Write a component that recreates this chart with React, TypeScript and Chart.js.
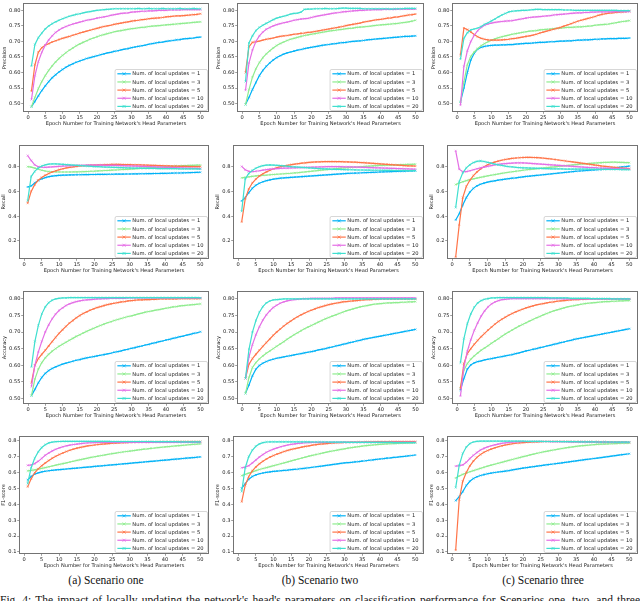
import React, { useEffect, useRef } from "react";
import { Chart, registerables } from "chart.js";

Chart.register(...registerables);

// ---------------- data ----------------
const EPOCHS = [1, 2, 3, 4, 5, 6, 7, 8, 9, 10, 11, 12, 13, 14, 15, 16, 17, 18, 19, 20, 21, 22, 23, 24, 25, 26, 27, 28, 29, 30, 31, 32, 33, 34, 35, 36, 37, 38, 39, 40, 41, 42, 43, 44, 45, 46, 47, 48, 49, 50];
const UPDATE_COUNTS = [1, 3, 5, 10, 20];
const X_TICKS = [0, 5, 10, 15, 20, 25, 30, 35, 40, 45, 50];
const PRECISION_TICKS = [0.5, 0.55, 0.6, 0.65, 0.7, 0.75, 0.8];
const RECALL_TICKS = [0.2, 0.4, 0.6, 0.8];
const ACCURACY_TICKS = [0.5, 0.55, 0.6, 0.65, 0.7, 0.75, 0.8];
const F1_TICKS = [0.1, 0.2, 0.3, 0.4, 0.5, 0.6, 0.7, 0.8];
const X_TITLE = "Epoch Number for Training Network's Head Parameters";
const SCENARIO_CAPTIONS = ["(a) Scenario one", "(b) Scenario two", "(c) Scenario three"];
const FIG_CAPTION = "Fig. 4: The impact of locally updating the network's head's parameters on classification performance for Scenarios one, two, and three";

// Precision, scenario one
const PREC_SC1_U1 = [.490, .507, .525, .542, .557, .571, .583, .593, .602, .610, .617, .623, .628, .633, .637, .641, .645, .648, .651, .654, .657, .660, .663, .665, .668, .670, .673, .675, .677, .680, .682, .684, .686, .688, .691, .693, .695, .697, .698, .700, .702, .703, .705, .706, .708, .709, .710, .711, .713, .714];
const PREC_SC1_U3 = [.490, .520, .548, .571, .590, .607, .621, .634, .645, .655, .664, .672, .679, .686, .692, .697, .702, .707, .711, .715, .719, .722, .725, .728, .731, .733, .735, .737, .739, .741, .742, .744, .745, .746, .748, .749, .750, .751, .752, .753, .754, .755, .756, .757, .758, .759, .760, .761, .762, .763];
const PREC_SC1_U5 = [.540, .625, .665, .680, .688, .693, .698, .702, .706, .710, .713, .716, .720, .723, .727, .730, .733, .736, .739, .742, .745, .748, .750, .752, .755, .757, .759, .761, .763, .765, .767, .768, .770, .771, .773, .774, .775, .776, .777, .779, .780, .781, .782, .782, .783, .784, .785, .786, .787, .789];
const PREC_SC1_U10 = [.513, .590, .635, .665, .688, .705, .718, .729, .737, .743, .748, .752, .756, .759, .762, .765, .768, .770, .772, .775, .777, .779, .781, .784, .786, .788, .790, .791, .792, .794, .795, .796, .797, .797, .798, .798, .799, .800, .800, .800, .801, .801, .801, .801, .802, .802, .802, .802, .802, .802];
const PREC_SC1_U20 = [.621, .690, .712, .727, .740, .750, .757, .763, .768, .773, .777, .781, .784, .787, .789, .792, .794, .796, .798, .800, .801, .802, .803, .804, .805, .805, .805, .805, .805, .805, .805, .806, .805, .805, .806, .805, .805, .805, .806, .805, .805, .805, .805, .806, .805, .805, .805, .806, .805, .805];

// Precision, scenario two
const PREC_SC2_U1 = [.497, .520, .545, .568, .590, .607, .620, .631, .640, .648, .654, .659, .663, .666, .669, .672, .674, .677, .679, .681, .683, .685, .687, .689, .690, .692, .693, .695, .696, .697, .699, .700, .701, .702, .703, .705, .706, .707, .708, .709, .710, .711, .712, .713, .714, .715, .716, .716, .717, .718];
const PREC_SC2_U3 = [.497, .545, .585, .612, .632, .648, .660, .670, .679, .687, .693, .698, .703, .707, .710, .713, .716, .719, .721, .723, .725, .727, .729, .731, .733, .735, .736, .738, .739, .741, .742, .743, .745, .746, .747, .748, .749, .751, .752, .753, .754, .755, .756, .757, .758, .760, .761, .763, .765, .768];
const PREC_SC2_U5 = [.600, .683, .697, .699, .701, .704, .707, .709, .711, .714, .716, .718, .719, .721, .723, .724, .726, .727, .729, .730, .732, .734, .736, .738, .740, .742, .744, .746, .748, .751, .753, .755, .757, .759, .762, .764, .766, .768, .770, .771, .773, .775, .776, .778, .779, .781, .783, .785, .786, .788];
const PREC_SC2_U10 = [.543, .630, .672, .700, .718, .730, .739, .745, .750, .754, .757, .760, .762, .765, .768, .770, .772, .773, .774, .777, .780, .782, .784, .786, .788, .790, .792, .793, .795, .796, .797, .798, .799, .800, .800, .801, .801, .802, .802, .802, .803, .803, .803, .803, .804, .804, .804, .804, .804, .804];
const PREC_SC2_U20 = [.571, .695, .718, .735, .745, .752, .758, .764, .770, .775, .778, .781, .784, .788, .790, .791, .794, .803, .804, .804, .805, .805, .805, .806, .805, .805, .805, .806, .807, .807, .806, .806, .806, .806, .805, .805, .805, .805, .805, .805, .805, .805, .804, .805, .805, .805, .806, .806, .806, .806];

// Precision, scenario three
const PREC_SC3_U1 = [.506, .550, .600, .640, .662, .675, .681, .684, .686, .687, .688, .688, .689, .689, .690, .690, .691, .692, .693, .694, .694, .695, .696, .697, .697, .698, .699, .699, .700, .701, .701, .702, .702, .703, .704, .704, .705, .705, .706, .707, .707, .708, .708, .709, .709, .709, .710, .710, .710, .711];
const PREC_SC3_U3 = [.505, .570, .625, .652, .666, .677, .686, .693, .699, .704, .708, .712, .715, .718, .720, .723, .725, .727, .729, .731, .733, .734, .735, .737, .738, .739, .740, .741, .742, .743, .744, .745, .745, .746, .747, .747, .748, .749, .750, .752, .753, .754, .755, .756, .758, .760, .762, .764, .765, .767];
const PREC_SC3_U5 = [.656, .743, .738, .730, .722, .715, .710, .707, .705, .704, .704, .704, .705, .706, .707, .709, .710, .712, .714, .716, .718, .720, .723, .727, .730, .733, .736, .739, .742, .745, .749, .753, .757, .761, .765, .768, .771, .774, .777, .780, .784, .787, .789, .791, .792, .793, .794, .795, .796, .797];
const PREC_SC3_U10 = [.495, .620, .670, .700, .720, .735, .745, .752, .756, .759, .761, .763, .764, .765, .766, .767, .769, .771, .773, .775, .777, .778, .779, .780, .781, .782, .783, .785, .786, .787, .788, .789, .790, .791, .792, .792, .793, .793, .794, .794, .795, .795, .795, .795, .795, .796, .796, .796, .796, .796];
const PREC_SC3_U20 = [.643, .710, .728, .737, .740, .743, .748, .755, .760, .766, .772, .779, .785, .790, .795, .797, .798, .799, .800, .800, .801, .802, .803, .803, .802, .802, .802, .802, .802, .802, .801, .801, .801, .800, .800, .800, .800, .800, .800, .800, .800, .800, .800, .800, .800, .800, .799, .799, .799, .799];

// Recall, scenario one
const REC_SC1_U1 = [.636, .645, .668, .688, .702, .712, .719, .724, .727, .730, .731, .732, .733, .734, .735, .735, .736, .736, .737, .737, .738, .738, .738, .739, .739, .740, .740, .740, .741, .741, .742, .742, .743, .743, .744, .744, .745, .745, .746, .746, .747, .748, .749, .749, .750, .751, .752, .753, .754, .755];
const REC_SC1_U3 = [.800, .796, .788, .779, .771, .765, .761, .759, .758, .757, .757, .757, .757, .758, .758, .759, .760, .761, .763, .764, .766, .767, .769, .770, .772, .773, .775, .777, .778, .780, .782, .784, .786, .788, .790, .792, .794, .796, .798, .800, .802, .803, .805, .806, .808, .809, .810, .811, .812, .812];
const REC_SC1_U5 = [.505, .600, .655, .690, .713, .730, .745, .757, .767, .776, .783, .790, .795, .799, .803, .806, .808, .810, .812, .813, .814, .815, .816, .817, .818, .818, .818, .817, .817, .816, .815, .815, .814, .813, .812, .811, .810, .809, .808, .807, .806, .805, .804, .803, .803, .802, .801, .801, .800, .800];
const REC_SC1_U10 = [.890, .850, .815, .800, .796, .795, .797, .799, .801, .803, .805, .806, .808, .809, .810, .811, .811, .812, .812, .812, .812, .812, .811, .811, .810, .810, .809, .808, .807, .806, .805, .804, .803, .802, .801, .800, .799, .797, .796, .795, .794, .793, .792, .791, .790, .789, .788, .787, .786, .785];
const REC_SC1_U20 = [.525, .720, .762, .788, .805, .815, .820, .822, .822, .821, .819, .817, .815, .813, .811, .809, .807, .805, .803, .801, .800, .799, .797, .796, .795, .794, .793, .792, .791, .790, .789, .789, .788, .787, .787, .786, .786, .785, .785, .785, .784, .784, .784, .783, .783, .783, .782, .782, .782, .781];

// Recall, scenario two
const REC_SC2_U1 = [.523, .550, .590, .625, .650, .666, .678, .687, .694, .700, .704, .707, .710, .712, .714, .716, .718, .720, .722, .724, .726, .728, .730, .732, .734, .736, .738, .740, .742, .744, .746, .747, .748, .749, .751, .752, .753, .754, .755, .757, .758, .759, .760, .761, .762, .763, .764, .765, .766, .767];
const REC_SC2_U3 = [.710, .714, .718, .722, .725, .728, .730, .732, .735, .737, .739, .741, .743, .745, .747, .750, .752, .755, .758, .761, .764, .767, .770, .773, .776, .779, .782, .785, .788, .790, .792, .794, .796, .798, .800, .802, .804, .806, .808, .810, .811, .812, .813, .814, .815, .816, .817, .818, .819, .820];
const REC_SC2_U5 = [.354, .540, .620, .668, .700, .724, .743, .758, .771, .783, .792, .800, .806, .811, .816, .820, .824, .828, .831, .834, .836, .838, .839, .840, .841, .841, .841, .840, .840, .839, .838, .837, .836, .834, .833, .831, .829, .827, .825, .823, .821, .819, .817, .815, .813, .811, .809, .807, .806, .805];
const REC_SC2_U10 = [.802, .775, .762, .760, .763, .767, .772, .776, .780, .783, .785, .787, .788, .789, .790, .791, .792, .793, .794, .795, .796, .797, .798, .799, .800, .800, .800, .800, .800, .799, .799, .798, .797, .796, .795, .794, .793, .792, .791, .790, .789, .788, .787, .786, .785, .784, .783, .782, .781, .780];
const REC_SC2_U20 = [.440, .700, .745, .770, .788, .800, .808, .813, .814, .813, .811, .809, .806, .803, .800, .798, .796, .794, .792, .790, .788, .786, .785, .783, .782, .780, .779, .778, .777, .776, .775, .775, .774, .773, .773, .772, .772, .771, .771, .771, .770, .770, .770, .769, .769, .769, .769, .768, .768, .768];

// Recall, scenario three
const REC_SC3_U1 = [.370, .420, .490, .550, .595, .625, .645, .658, .667, .675, .681, .686, .691, .695, .699, .703, .707, .710, .714, .718, .721, .724, .727, .730, .733, .736, .739, .742, .745, .748, .751, .754, .757, .760, .763, .765, .767, .769, .771, .773, .775, .777, .780, .783, .786, .790, .794, .798, .801, .805];
const REC_SC3_U3 = [.655, .668, .678, .687, .695, .702, .708, .714, .720, .726, .731, .736, .741, .746, .751, .755, .759, .763, .767, .771, .775, .778, .781, .784, .787, .790, .793, .796, .799, .802, .805, .808, .811, .814, .817, .820, .822, .824, .826, .828, .830, .832, .834, .835, .836, .836, .835, .834, .833, .832];
const REC_SC3_U5 = [.071, .330, .550, .640, .690, .728, .757, .781, .800, .815, .827, .837, .845, .852, .858, .863, .867, .870, .872, .874, .875, .875, .874, .873, .871, .868, .865, .862, .858, .854, .850, .846, .842, .838, .834, .830, .826, .822, .818, .814, .810, .806, .803, .800, .797, .794, .791, .789, .787, .785];
const REC_SC3_U10 = [.928, .780, .760, .760, .767, .775, .783, .790, .797, .803, .809, .814, .818, .822, .825, .827, .829, .830, .830, .830, .829, .827, .825, .823, .821, .819, .817, .815, .813, .811, .809, .807, .805, .803, .801, .799, .797, .795, .793, .792, .790, .789, .788, .787, .786, .785, .784, .783, .782, .781];
const REC_SC3_U20 = [.470, .680, .750, .790, .815, .833, .843, .846, .842, .835, .828, .821, .815, .810, .805, .801, .798, .795, .793, .791, .790, .789, .788, .787, .786, .785, .784, .783, .783, .782, .782, .781, .781, .781, .780, .780, .780, .780, .779, .779, .779, .778, .778, .778, .777, .777, .777, .776, .776, .775];

// Accuracy, scenario one
const ACC_SC1_U1 = [.508, .527, .547, .563, .575, .584, .590, .595, .599, .603, .606, .609, .612, .615, .617, .620, .622, .624, .626, .628, .630, .632, .634, .636, .639, .641, .643, .646, .648, .651, .653, .656, .658, .661, .663, .666, .668, .671, .673, .676, .678, .681, .683, .686, .688, .691, .693, .696, .698, .701];
const ACC_SC1_U3 = [.508, .558, .588, .608, .622, .633, .642, .650, .657, .663, .669, .675, .681, .687, .692, .697, .702, .707, .711, .716, .720, .724, .728, .731, .735, .738, .741, .744, .747, .749, .752, .755, .757, .760, .762, .764, .766, .768, .770, .772, .774, .776, .777, .779, .780, .781, .782, .783, .784, .785];
const ACC_SC1_U5 = [.547, .600, .620, .633, .645, .658, .671, .684, .696, .707, .717, .727, .735, .743, .750, .756, .761, .766, .770, .774, .777, .780, .783, .785, .787, .789, .791, .792, .794, .795, .796, .797, .797, .798, .798, .799, .799, .800, .800, .800, .800, .800, .800, .801, .801, .801, .801, .801, .801, .801];
const ACC_SC1_U10 = [.535, .600, .640, .672, .700, .722, .740, .754, .765, .773, .780, .785, .789, .792, .794, .796, .797, .798, .799, .800, .800, .801, .801, .802, .802, .802, .802, .802, .803, .803, .803, .803, .803, .803, .803, .803, .803, .803, .803, .803, .803, .803, .803, .803, .803, .803, .803, .803, .803, .803];
const ACC_SC1_U20 = [.595, .672, .720, .755, .776, .789, .796, .800, .802, .803, .803, .804, .804, .804, .804, .804, .804, .804, .804, .804, .804, .804, .804, .804, .804, .804, .804, .804, .804, .804, .804, .804, .804, .804, .804, .804, .804, .804, .804, .804, .804, .804, .804, .804, .804, .804, .804, .804, .804, .803];

// Accuracy, scenario two
const ACC_SC2_U1 = [.515, .540, .568, .588, .599, .606, .611, .615, .618, .621, .623, .625, .627, .629, .631, .633, .635, .637, .639, .641, .643, .646, .648, .650, .653, .655, .658, .660, .663, .665, .668, .670, .673, .675, .678, .680, .682, .684, .686, .688, .690, .692, .694, .696, .698, .700, .702, .704, .706, .708];
const ACC_SC2_U3 = [.515, .563, .593, .608, .619, .628, .636, .643, .650, .657, .664, .671, .678, .685, .692, .698, .704, .710, .715, .720, .725, .730, .735, .740, .744, .748, .752, .756, .760, .764, .767, .770, .773, .776, .778, .780, .782, .784, .785, .786, .787, .788, .788, .789, .789, .790, .790, .791, .791, .792];
const ACC_SC2_U5 = [.560, .603, .620, .633, .645, .657, .668, .679, .690, .700, .709, .718, .726, .733, .740, .746, .752, .757, .762, .766, .770, .774, .777, .780, .783, .785, .787, .789, .791, .792, .793, .794, .795, .796, .797, .798, .798, .799, .799, .800, .800, .800, .800, .800, .800, .800, .800, .800, .800, .800];
const ACC_SC2_U10 = [.560, .625, .662, .692, .716, .736, .752, .764, .774, .781, .787, .791, .794, .796, .798, .799, .800, .801, .801, .802, .802, .802, .802, .802, .802, .802, .803, .803, .803, .803, .803, .803, .803, .803, .803, .803, .803, .803, .803, .803, .803, .803, .803, .803, .803, .803, .803, .803, .803, .803];
const ACC_SC2_U20 = [.560, .648, .700, .735, .760, .777, .788, .794, .797, .798, .799, .800, .800, .800, .800, .800, .800, .800, .800, .800, .800, .800, .800, .800, .800, .800, .800, .800, .800, .800, .800, .800, .800, .800, .800, .800, .800, .800, .800, .800, .800, .800, .800, .800, .800, .800, .800, .800, .800, .800];

// Accuracy, scenario three
const ACC_SC3_U1 = [.525, .560, .588, .601, .607, .611, .613, .616, .618, .620, .622, .624, .626, .628, .630, .632, .635, .637, .640, .643, .645, .648, .650, .653, .655, .658, .660, .663, .665, .668, .670, .673, .675, .678, .680, .682, .684, .686, .688, .690, .692, .694, .696, .698, .700, .702, .704, .706, .708, .710];
const ACC_SC3_U3 = [.530, .585, .605, .618, .628, .637, .645, .652, .659, .666, .673, .680, .687, .694, .700, .706, .712, .718, .723, .728, .733, .738, .743, .747, .752, .756, .760, .764, .767, .770, .773, .776, .778, .780, .782, .784, .786, .787, .788, .789, .790, .791, .792, .792, .793, .793, .794, .794, .795, .795];
const ACC_SC3_U5 = [.530, .605, .635, .650, .663, .675, .686, .696, .706, .715, .724, .732, .739, .745, .751, .756, .761, .765, .769, .773, .776, .779, .782, .784, .786, .788, .790, .791, .793, .794, .795, .796, .797, .798, .798, .799, .799, .800, .800, .800, .800, .800, .800, .800, .800, .800, .800, .800, .800, .800];
const ACC_SC3_U10 = [.507, .595, .642, .677, .705, .728, .748, .764, .776, .785, .791, .795, .798, .799, .800, .801, .801, .801, .801, .801, .801, .801, .801, .801, .801, .801, .801, .801, .801, .801, .800, .800, .800, .800, .800, .800, .800, .800, .800, .800, .800, .800, .800, .800, .800, .800, .800, .800, .800, .800];
const ACC_SC3_U20 = [.607, .680, .725, .755, .775, .788, .795, .799, .801, .803, .803, .804, .804, .804, .804, .804, .804, .804, .804, .804, .804, .804, .804, .804, .804, .804, .803, .803, .803, .803, .803, .803, .802, .802, .802, .802, .802, .802, .801, .801, .801, .801, .801, .801, .800, .800, .800, .800, .800, .800];

// F1-score, scenario one
const F1_SC1_U1 = [.553, .575, .590, .598, .604, .608, .611, .614, .616, .618, .620, .622, .624, .626, .628, .630, .632, .634, .636, .638, .640, .642, .644, .646, .648, .650, .652, .654, .656, .658, .660, .662, .664, .666, .668, .670, .672, .674, .676, .678, .680, .682, .684, .686, .688, .690, .692, .694, .696, .698];
const F1_SC1_U3 = [.610, .613, .617, .621, .626, .631, .636, .641, .646, .651, .656, .661, .666, .671, .676, .681, .686, .690, .695, .699, .703, .707, .711, .715, .719, .722, .726, .729, .732, .735, .738, .741, .744, .747, .749, .752, .754, .757, .759, .761, .763, .765, .767, .769, .771, .773, .775, .777, .778, .780];
const F1_SC1_U5 = [.510, .560, .598, .623, .643, .660, .676, .690, .702, .713, .723, .732, .740, .747, .753, .758, .763, .767, .770, .773, .776, .778, .780, .782, .784, .785, .786, .787, .788, .789, .790, .791, .791, .792, .792, .793, .793, .793, .794, .794, .794, .794, .795, .795, .795, .795, .795, .795, .795, .795];
const F1_SC1_U10 = [.645, .648, .656, .670, .689, .708, .723, .736, .746, .755, .762, .768, .772, .776, .779, .782, .784, .786, .787, .788, .789, .789, .790, .790, .790, .790, .790, .790, .790, .790, .790, .790, .790, .790, .790, .790, .790, .790, .790, .790, .790, .790, .790, .790, .790, .790, .790, .790, .790, .790];
const F1_SC1_U20 = [.530, .630, .690, .730, .757, .775, .786, .791, .794, .795, .796, .796, .796, .796, .796, .796, .796, .796, .796, .796, .796, .796, .796, .796, .795, .795, .795, .795, .795, .795, .795, .795, .795, .795, .795, .795, .794, .794, .794, .794, .794, .794, .794, .793, .793, .793, .793, .793, .793, .793];

// F1-score, scenario two
const F1_SC2_U1 = [.500, .530, .558, .575, .585, .592, .597, .601, .604, .607, .609, .611, .613, .615, .618, .620, .622, .625, .627, .630, .633, .636, .639, .642, .645, .648, .651, .654, .657, .660, .662, .664, .667, .669, .672, .674, .677, .679, .682, .685, .687, .690, .692, .695, .697, .700, .702, .705, .707, .710];
const F1_SC2_U3 = [.580, .588, .596, .604, .612, .619, .625, .631, .637, .643, .649, .655, .661, .667, .673, .679, .685, .691, .697, .703, .708, .713, .718, .723, .728, .733, .737, .741, .745, .749, .753, .757, .760, .763, .766, .769, .771, .773, .775, .777, .779, .780, .781, .782, .783, .784, .785, .786, .786, .787];
const F1_SC2_U5 = [.416, .520, .575, .610, .635, .655, .671, .685, .697, .707, .716, .724, .732, .739, .745, .750, .755, .760, .764, .768, .772, .775, .778, .780, .782, .784, .786, .787, .788, .789, .790, .791, .791, .792, .792, .793, .793, .793, .794, .794, .794, .794, .795, .795, .795, .795, .795, .795, .795, .795];
const F1_SC2_U10 = [.630, .634, .643, .660, .679, .697, .713, .727, .738, .747, .755, .762, .768, .773, .777, .780, .783, .785, .787, .788, .789, .789, .790, .790, .790, .790, .790, .790, .790, .790, .790, .790, .790, .790, .790, .790, .790, .790, .790, .790, .790, .790, .790, .790, .790, .790, .790, .790, .790, .790];
const F1_SC2_U20 = [.480, .630, .700, .740, .765, .780, .788, .792, .793, .793, .793, .793, .793, .793, .793, .793, .793, .793, .793, .793, .792, .792, .792, .792, .792, .791, .791, .791, .791, .791, .790, .790, .790, .790, .790, .790, .789, .789, .789, .789, .789, .789, .789, .788, .788, .788, .788, .788, .788, .788];

// F1-score, scenario three
const F1_SC3_U1 = [.423, .448, .480, .518, .545, .562, .573, .581, .587, .592, .596, .600, .603, .606, .609, .612, .616, .620, .624, .628, .631, .634, .637, .640, .643, .646, .649, .652, .655, .658, .661, .664, .667, .670, .673, .676, .679, .682, .685, .688, .691, .694, .697, .700, .703, .706, .709, .712, .715, .718];
const F1_SC3_U3 = [.565, .578, .588, .597, .605, .612, .619, .626, .633, .640, .646, .652, .658, .664, .670, .676, .682, .688, .694, .700, .705, .711, .716, .721, .726, .731, .735, .739, .743, .747, .751, .755, .758, .761, .764, .767, .769, .771, .773, .775, .777, .778, .779, .780, .781, .782, .783, .784, .784, .785];
const F1_SC3_U5 = [.112, .430, .545, .600, .642, .672, .695, .713, .727, .738, .747, .755, .762, .768, .773, .777, .781, .784, .786, .788, .790, .791, .792, .793, .794, .795, .795, .795, .795, .795, .795, .795, .795, .794, .794, .794, .794, .793, .793, .793, .793, .792, .792, .792, .792, .791, .791, .791, .791, .790];
const F1_SC3_U10 = [.640, .643, .648, .664, .688, .708, .726, .741, .752, .761, .768, .774, .779, .783, .786, .789, .791, .793, .794, .795, .795, .795, .795, .795, .795, .795, .795, .794, .794, .794, .794, .794, .793, .793, .793, .793, .792, .792, .792, .792, .791, .791, .791, .791, .790, .790, .790, .790, .790, .790];
const F1_SC3_U20 = [.505, .645, .720, .760, .782, .792, .796, .797, .797, .797, .797, .797, .797, .797, .797, .797, .797, .797, .797, .797, .796, .796, .796, .796, .796, .795, .795, .795, .795, .795, .794, .794, .794, .794, .794, .793, .793, .793, .793, .793, .792, .792, .792, .792, .792, .791, .791, .791, .791, .791];

// ---------------- styling / layout ----------------
const SERIES_COLORS = ["#00b2f6", "#8fec8f", "#ff7448", "#e46ee6", "#3fdfcf"];
const FONT_FAMILY = '"DejaVu Sans", sans-serif';
const TEXT_SIZE = 5.1;
const LEGEND_SIZE = 5.2;
const TEXT_COLOR = "#1a1a1a";
const FRAME_COLOR = "rgba(0,0,0,0.55)";

const METRICS = [
  { title: "Precision", ticks: PRECISION_TICKS, decimals: 2, yMin: 0.473, yMax: 0.8208,
    series: [
      [PREC_SC1_U1, PREC_SC1_U3, PREC_SC1_U5, PREC_SC1_U10, PREC_SC1_U20],
      [PREC_SC2_U1, PREC_SC2_U3, PREC_SC2_U5, PREC_SC2_U10, PREC_SC2_U20],
      [PREC_SC3_U1, PREC_SC3_U3, PREC_SC3_U5, PREC_SC3_U10, PREC_SC3_U20],
    ] },
  { title: "Recall", ticks: RECALL_TICKS, decimals: 1, yMin: 0.0546, yMax: 0.975,
    series: [
      [REC_SC1_U1, REC_SC1_U3, REC_SC1_U5, REC_SC1_U10, REC_SC1_U20],
      [REC_SC2_U1, REC_SC2_U3, REC_SC2_U5, REC_SC2_U10, REC_SC2_U20],
      [REC_SC3_U1, REC_SC3_U3, REC_SC3_U5, REC_SC3_U10, REC_SC3_U20],
    ] },
  { title: "Accuracy", ticks: ACCURACY_TICKS, decimals: 2, yMin: 0.4828, yMax: 0.824,
    series: [
      [ACC_SC1_U1, ACC_SC1_U3, ACC_SC1_U5, ACC_SC1_U10, ACC_SC1_U20],
      [ACC_SC2_U1, ACC_SC2_U3, ACC_SC2_U5, ACC_SC2_U10, ACC_SC2_U20],
      [ACC_SC3_U1, ACC_SC3_U3, ACC_SC3_U5, ACC_SC3_U10, ACC_SC3_U20],
    ] },
  { title: "F1-score", ticks: F1_TICKS, decimals: 1, yMin: 0.0874, yMax: 0.8296,
    series: [
      [F1_SC1_U1, F1_SC1_U3, F1_SC1_U5, F1_SC1_U10, F1_SC1_U20],
      [F1_SC2_U1, F1_SC2_U3, F1_SC2_U5, F1_SC2_U10, F1_SC2_U20],
      [F1_SC3_U1, F1_SC3_U3, F1_SC3_U5, F1_SC3_U10, F1_SC3_U20],
    ] },
];

// plot-area boxes (page pixels)
const ROW_BOXES = [
  { top: 0, bottom: 112, lefts: [23, 237, 452], titleOff: 18.7 },
  { top: 145, bottom: 259, lefts: [19, 233, 447], titleOff: 15 },
  { top: 291, bottom: 404, lefts: [23, 237, 452], titleOff: 18.7 },
  { top: 436, bottom: 554, lefts: [19, 233, 447], titleOff: 15 },
];
const COL_RIGHTS = [209, 424, 638];
const X_MIN = -1.45;
const X_MAX = 52.45;
const X_TITLE_OFFSET = 11.2;
const CAPTION_CENTERS = [106, 320, 543];

const font = (size) => ({ family: FONT_FAMILY, size, lineHeight: 1.2 });

const framePlugin = {
  id: "axesFrame",
  afterDatasetsDraw(chart) {
    const { ctx, chartArea: a } = chart;
    ctx.save();
    ctx.strokeStyle = FRAME_COLOR;
    ctx.lineWidth = 1;
    const l = Math.floor(a.left) + 0.5;
    const t = Math.floor(a.top) + 0.5;
    const r = Math.ceil(a.right) - 0.5;
    const b = Math.ceil(a.bottom) - 0.5;
    ctx.strokeRect(l, t, r - l, b - t);
    ctx.restore();
  },
};

const legendPlugin = {
  id: "boxLegend",
  afterDraw(chart) {
    const { ctx, chartArea: a } = chart;
    const ds = chart.data.datasets;
    ctx.save();
    ctx.font = `${LEGEND_SIZE}px ${FONT_FAMILY}`;
    const textW = Math.max(...ds.map((d) => ctx.measureText(d.label).width));
    const w = 17.3 + textW + 4;
    const h = 41;
    const x0 = a.right - 1.5 - w;
    const y0 = a.bottom - 1.5 - h;
    ctx.beginPath();
    if (ctx.roundRect) ctx.roundRect(x0, y0, w, h, 1.5);
    else ctx.rect(x0, y0, w, h);
    ctx.fillStyle = "rgba(255,255,255,0.85)";
    ctx.fill();
    ctx.strokeStyle = "rgba(0,0,0,0.2)";
    ctx.lineWidth = 0.8;
    ctx.stroke();
    ds.forEach((d, i) => {
      const y = y0 + 4.3 + i * 8.15;
      ctx.strokeStyle = d.borderColor;
      ctx.lineWidth = 1.2;
      ctx.beginPath();
      ctx.moveTo(x0 + 2.3, y);
      ctx.lineTo(x0 + 15.7, y);
      ctx.stroke();
      ctx.lineWidth = 0.8;
      ctx.beginPath();
      ctx.moveTo(x0 + 9 - 1.5, y - 1.5);
      ctx.lineTo(x0 + 9 + 1.5, y + 1.5);
      ctx.moveTo(x0 + 9 - 1.5, y + 1.5);
      ctx.lineTo(x0 + 9 + 1.5, y - 1.5);
      ctx.stroke();
      ctx.fillStyle = TEXT_COLOR;
      ctx.textBaseline = "middle";
      ctx.textAlign = "left";
      ctx.fillText(d.label, x0 + 17.3, y + 0.3);
    });
    ctx.restore();
  },
};

function Subplot({ row, col }) {
  const ref = useRef(null);
  const metric = METRICS[row];
  const rb = ROW_BOXES[row];
  const box = { l: rb.lefts[col], r: COL_RIGHTS[col], t: rb.top, b: rb.bottom };
  const cl = Math.max(0, box.l - 23);
  const ct = Math.max(0, box.t - 4);
  const cr = Math.min(640, box.r + 3);
  const cb = box.b + 15;
  const w = cr - cl;
  const h = cb - ct;
  const yWidth = box.l - cl;
  const xHeight = cb - box.b;
  const titleLH = TEXT_SIZE * 1.2;
  const yTitlePad = box.l - rb.titleOff - cl - titleLH / 2;
  const xTitlePad = xHeight - X_TITLE_OFFSET - titleLH / 2;

  useEffect(() => {
    const datasets = metric.series[col].map((vals, k) => ({
      label: `Num. of local updates = ${UPDATE_COUNTS[k]}`,
      data: vals,
      borderColor: SERIES_COLORS[k],
      backgroundColor: SERIES_COLORS[k],
      pointBorderColor: SERIES_COLORS[k],
      borderWidth: 1.2,
      pointStyle: "crossRot",
      pointRadius: 1.4,
      pointBorderWidth: 0.6,
      pointHoverRadius: 0,
      tension: 0,
      fill: false,
      order: UPDATE_COUNTS.length - k,
    }));
    const tickGrid = {
      display: true,
      drawOnChartArea: false,
      drawTicks: true,
      tickLength: 1.8,
      color: FRAME_COLOR,
      lineWidth: 0.7,
    };
    const chart = new Chart(ref.current, {
      type: "line",
      data: { labels: EPOCHS, datasets },
      plugins: [framePlugin, legendPlugin],
      options: {
        animation: false,
        responsive: false,
        devicePixelRatio: 1,
        events: [],
        layout: { autoPadding: false, padding: { left: 0, top: box.t - ct, right: cr - box.r, bottom: 0 } },
        plugins: { legend: { display: false }, tooltip: { enabled: false } },
        scales: {
          x: {
            type: "linear",
            min: X_MIN,
            max: X_MAX,
            afterBuildTicks: (s) => { s.ticks = X_TICKS.map((v) => ({ value: v })); },
            afterFit: (s) => { s.height = xHeight; },
            grid: tickGrid,
            border: { display: false },
            ticks: { font: font(TEXT_SIZE), color: TEXT_COLOR, padding: 0.4, maxRotation: 0, autoSkip: false, callback: (v) => String(v) },
            title: { display: true, text: X_TITLE, font: font(TEXT_SIZE), color: TEXT_COLOR, padding: { top: 0, bottom: xTitlePad } },
          },
          y: {
            type: "linear",
            min: metric.yMin,
            max: metric.yMax,
            afterBuildTicks: (s) => { s.ticks = metric.ticks.map((v) => ({ value: v })); },
            afterFit: (s) => { s.width = yWidth; },
            grid: tickGrid,
            border: { display: false },
            ticks: { font: font(TEXT_SIZE), color: TEXT_COLOR, padding: 0.8, autoSkip: false, callback: (v) => Number(v).toFixed(metric.decimals) },
            title: { display: true, text: metric.title, font: font(TEXT_SIZE), color: TEXT_COLOR, padding: { top: yTitlePad, bottom: 0 } },
          },
        },
      },
    });
    return () => chart.destroy();
  }, []);

  return (
    <canvas
      ref={ref}
      width={w}
      height={h}
      style={{ position: "absolute", left: cl, top: ct, width: w, height: h }}
    />
  );
}

export default function App() {
  const cells = [];
  for (let r = 0; r < METRICS.length; r++) {
    for (let c = 0; c < 3; c++) cells.push(<Subplot key={`${r}-${c}`} row={r} col={c} />);
  }
  return (
    <div style={{ position: "absolute", left: 0, top: 0, width: 640, height: 601, overflow: "hidden", background: "#fff" }}>
      {cells}
      {SCENARIO_CAPTIONS.map((t, i) => (
        <div
          key={t}
          style={{
            position: "absolute",
            left: CAPTION_CENTERS[i] - 100,
            width: 200,
            top: 573,
            textAlign: "center",
            fontFamily: '"Liberation Serif", "Times New Roman", serif',
            fontSize: 11.5,
            lineHeight: "14px",
            color: "#111",
            whiteSpace: "nowrap",
          }}
        >
          {t}
        </div>
      ))}
      <div
        style={{
          position: "absolute",
          left: 0,
          width: 640,
          top: 593,
          fontFamily: '"Liberation Serif", "Times New Roman", serif',
          fontSize: 11.5,
          lineHeight: "14px",
          color: "#111",
          textAlign: "justify",
          textAlignLast: "justify",
        }}
      >
        {FIG_CAPTION}
      </div>
    </div>
  );
}
